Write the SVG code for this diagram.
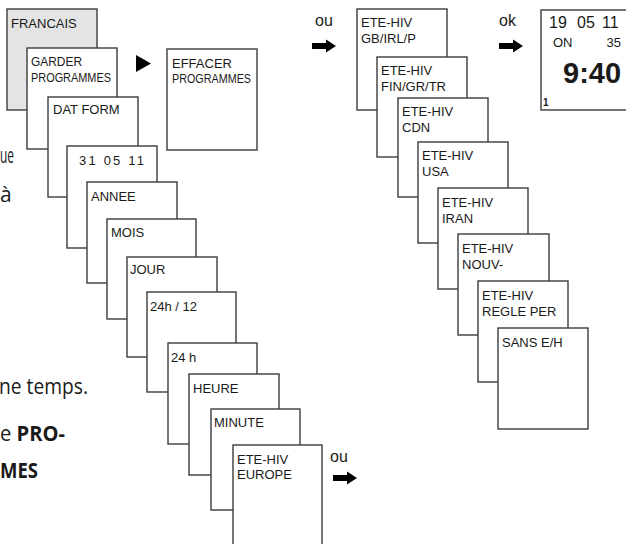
<svg xmlns="http://www.w3.org/2000/svg" width="626" height="544" viewBox="0 0 626 544">
<style>
.box{fill:#fff;stroke:#3c3c3c;stroke-width:1.4}
.gray{fill:#e4e4e4}
.lbl{font-family:"Liberation Sans",Arial,sans-serif;font-size:13px;fill:#1a1a1a}
.body{font-family:"Open Sans","Noto Sans",sans-serif;font-size:21px;fill:#1a1a1a}
.bold{font-weight:bold}
.arrow{fill:#000}
.ou{font-size:16px}
.dig{font-size:16px}
</style>
<defs>
<path id="arr" d="M0,-3 H14 V-6.5 L24,0 L14,6.5 V3 H0 Z"/>
</defs>
<rect width="626" height="544" fill="#fff"/>

<g id="body-text">
<text class="body" x="0" y="163" textLength="14" lengthAdjust="spacingAndGlyphs">ue</text>
<text class="body" x="0" y="202">à</text>
<text class="body" x="-1" y="394" textLength="89" lengthAdjust="spacingAndGlyphs">ne temps.</text>
<text class="body" x="0" y="441" textLength="65" lengthAdjust="spacingAndGlyphs">e <tspan class="bold">PRO-</tspan></text>
<text class="body bold" x="0" y="478" textLength="38" lengthAdjust="spacingAndGlyphs">MES</text>
</g>

<g id="n-francais"><rect class="box gray" x="7" y="9" width="90" height="101"/><text class="lbl" x="11" y="28">FRANCAIS</text></g>
<g id="n-garder"><rect class="box" x="27" y="48" width="90" height="101"/><text class="lbl" x="31" y="66" textLength="51" lengthAdjust="spacingAndGlyphs">GARDER</text><text class="lbl" x="31" y="82" textLength="80" lengthAdjust="spacingAndGlyphs">PROGRAMMES</text></g>
<g id="n-effacer"><rect class="box" x="167" y="49" width="90" height="101"/><text class="lbl" x="172" y="68">EFFACER</text><text class="lbl" x="172" y="83" textLength="79" lengthAdjust="spacingAndGlyphs">PROGRAMMES</text></g>
<g id="n-datform"><rect class="box" x="48" y="97" width="90" height="100"/><text class="lbl" x="53" y="114">DAT FORM</text></g>
<g id="n-date"><rect class="box" x="67" y="146" width="90" height="102"/><text class="lbl" x="79" y="165" textLength="65">31 05 11</text></g>
<g id="n-annee"><rect class="box" x="87" y="182" width="90" height="101"/><text class="lbl" x="91" y="201">ANNEE</text></g>
<g id="n-mois"><rect class="box" x="107" y="219" width="89" height="100"/><text class="lbl" x="111" y="237">MOIS</text></g>
<g id="n-jour"><rect class="box" x="127" y="257" width="90" height="100"/><text class="lbl" x="130" y="274">JOUR</text></g>
<g id="n-2412"><rect class="box" x="147" y="292" width="89" height="100"/><text class="lbl" x="150" y="311">24h / 12</text></g>
<g id="n-24h"><rect class="box" x="168" y="343" width="89" height="101"/><text class="lbl" x="171" y="362">24 h</text></g>
<g id="n-heure"><rect class="box" x="189" y="374" width="90" height="101"/><text class="lbl" x="193" y="393">HEURE</text></g>
<g id="n-minute"><rect class="box" x="211" y="409" width="89" height="101"/><text class="lbl" x="214" y="427">MINUTE</text></g>
<g id="n-europe"><rect class="box" x="233" y="445" width="89" height="101"/><text class="lbl" x="237" y="464">ETE-HIV</text><text class="lbl" x="237" y="479">EUROPE</text></g>

<g id="n-gb"><rect class="box" x="357" y="9" width="90" height="101"/><text class="lbl" x="361" y="27">ETE-HIV</text><text class="lbl" x="361" y="43">GB/IRL/P</text></g>
<g id="n-fin"><rect class="box" x="377" y="57" width="90" height="100"/><text class="lbl" x="381" y="75">ETE-HIV</text><text class="lbl" x="381" y="91">FIN/GR/TR</text></g>
<g id="n-cdn"><rect class="box" x="398" y="98" width="90" height="99"/><text class="lbl" x="402" y="116">ETE-HIV</text><text class="lbl" x="402" y="132">CDN</text></g>
<g id="n-usa"><rect class="box" x="418" y="142" width="90" height="101"/><text class="lbl" x="422" y="160">ETE-HIV</text><text class="lbl" x="422" y="176">USA</text></g>
<g id="n-iran"><rect class="box" x="438" y="188" width="90" height="101"/><text class="lbl" x="442" y="207">ETE-HIV</text><text class="lbl" x="442" y="223">IRAN</text></g>
<g id="n-nouv"><rect class="box" x="458" y="234" width="91" height="101"/><text class="lbl" x="462" y="253">ETE-HIV</text><text class="lbl" x="462" y="269">NOUV-</text></g>
<g id="n-regle"><rect class="box" x="478" y="281" width="90" height="101"/><text class="lbl" x="482" y="300">ETE-HIV</text><text class="lbl" x="482" y="316">REGLE PER</text></g>
<g id="n-sans"><rect class="box" x="498" y="328" width="90" height="101"/><text class="lbl" x="502" y="347">SANS E/H</text></g>

<g id="n-clock"><rect class="box" x="541" y="10" width="92" height="100"/>
<text class="lbl dig" x="549" y="28">19</text><text class="lbl dig" x="577" y="28">05</text><text class="lbl dig" x="602" y="28">11</text>
<text class="lbl" x="553" y="47">ON</text><text class="lbl" x="621" y="47" text-anchor="end">35</text>
<text class="lbl bold" x="563" y="83" style="font-size:29px">9:40</text>
<text class="lbl bold" x="543" y="106" style="font-size:10px">1</text>
</g>

<g id="connectors">
<polygon class="arrow" points="136,55 151,63.5 136,72"/>
<text class="lbl ou" x="315" y="26">ou</text>
<use href="#arr" class="arrow" transform="translate(312,46)"/>
<text class="lbl ou" x="499" y="26">ok</text>
<use href="#arr" class="arrow" transform="translate(499,46)"/>
<text class="lbl ou" x="330" y="462">ou</text>
<use href="#arr" class="arrow" transform="translate(333,478)"/>
</g>
</svg>
